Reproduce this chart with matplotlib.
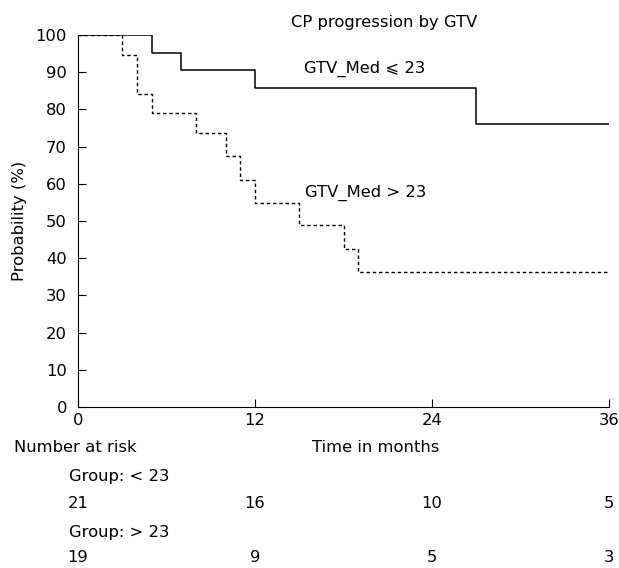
import matplotlib
matplotlib.use('Agg')
import matplotlib.pyplot as plt
from matplotlib.transforms import blended_transform_factory

# courbes de Kaplan-Meier
t_low = [0, 5, 7, 12, 27, 36]
s_low = [100, 95.2, 90.5, 85.7, 76.2, 76.2]
t_high = [0, 3, 4, 5, 8, 10, 11, 12, 15, 18, 19, 36]
s_high = [100, 94.7, 84.2, 78.9, 73.7, 67.4, 61.1, 54.8, 48.8, 42.5, 36.2, 36.2]

risk_times = [0, 12, 24, 36]
risk_low = [21, 16, 10, 5]
risk_high = [19, 9, 5, 3]

plt.rcParams['font.family'] = ['DejaVu Sans']
fs = 11.8

fig = plt.figure(figsize=(6.19, 5.68), dpi=100)
ax = fig.add_axes([78/619, 1-407/568, 531/619, 372/568])

ax.step(t_low, s_low, where='post', color='black', lw=1.1)
ax.step(t_high, s_high, where='post', color='black', lw=1.0, linestyle=(0, (2.5, 2)))

ax.set_xlim(0, 36)
ax.set_ylim(0, 100)
ax.set_xticks(risk_times)
ax.set_yticks(range(0, 101, 10))
ax.tick_params(direction='in', length=6, labelsize=fs)
ax.tick_params(axis='y', pad=8)
ax.tick_params(axis='x', pad=4)
ax.spines['top'].set_visible(False)
ax.spines['right'].set_visible(False)
ax.set_ylabel('Probability (%)', fontsize=fs, labelpad=6)

ax.text(15.3, 90.8, 'GTV_Med ⩽ 23', fontsize=fs, va='center', ha='left')
ax.text(15.4, 57.5, 'GTV_Med > 23', fontsize=fs, va='center', ha='left')
fig.text(384/619, 1-22/568, 'CP progression by GTV', fontsize=fs, ha='center', va='center')

# tableau des sujets à risque
fig.text(14/619, 1-448/568, 'Number at risk', fontsize=fs, ha='left', va='center')
fig.text(376/619, 1-448/568, 'Time in months', fontsize=fs, ha='center', va='center')
fig.text(69/619, 1-477/568, 'Group: < 23', fontsize=fs, ha='left', va='center')
fig.text(69/619, 1-532/568, 'Group: > 23', fontsize=fs, ha='left', va='center')
tr = blended_transform_factory(ax.transData, fig.transFigure)
for t, n in zip(risk_times, risk_low):
    ax.text(t, 1-503/568, str(n), transform=tr, fontsize=fs, ha='center', va='center', clip_on=False)
for t, n in zip(risk_times, risk_high):
    ax.text(t, 1-558/568, str(n), transform=tr, fontsize=fs, ha='center', va='center', clip_on=False)

fig.savefig('out.png', dpi=100)
